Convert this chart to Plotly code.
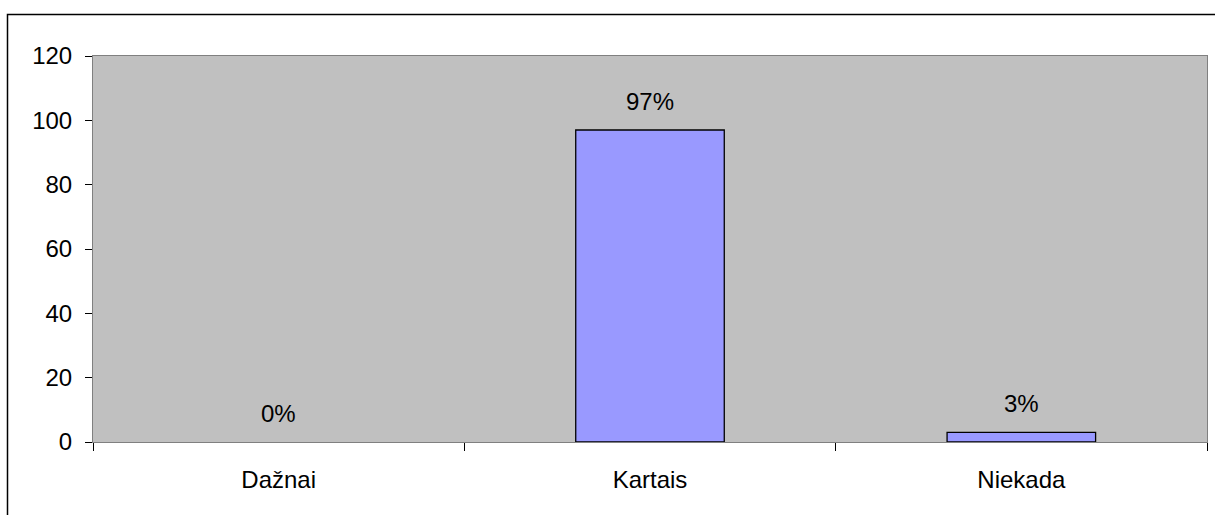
import plotly.graph_objects as go

categories = ["Dažnai", "Kartais", "Niekada"]
values = [0, 97, 3]
y_ticks = [0, 20, 40, 60, 80, 100, 120]

L, R, T, B = 93, 8, 56, 73
W, H = 1215, 515
pw, ph = W - L - R, H - T - B
FONT = "Liberation Sans, Arial"

fig = go.Figure()
fig.add_trace(go.Bar(
    x=categories, y=values, width=0.4,
    marker=dict(color="#9999FF",
                line=dict(color="black", width=[0 if v == 0 else 1.3 for v in values])),
    hoverinfo="skip",
))

for c, v in zip(categories, values):
    fig.add_annotation(x=c, y=v, text=f"{v}%", showarrow=False,
                       yanchor="bottom", yshift=13,
                       font=dict(family=FONT, size=24, color="black"))

# outer chart frame
fig.add_shape(type="rect", xref="paper", yref="paper",
              x0=(7.5 - L) / pw, x1=1.2, y0=-0.3, y1=(H - B - 14.5) / ph,
              line=dict(color="black", width=1.5), fillcolor="rgba(0,0,0,0)", layer="below")

fig.update_layout(
    width=W, height=H,
    margin=dict(l=L, r=R, t=T, b=B),
    paper_bgcolor="white", plot_bgcolor="#C0C0C0",
    showlegend=False,
    font=dict(family=FONT, size=24, color="black"),
)
fig.update_xaxes(type="category", range=[-0.5, 2.5], tickson="boundaries",
                 ticks="outside", ticklen=8, tickcolor="black",
                 tickfont=dict(size=24),
                 showline=True, linecolor="#808080", linewidth=1, mirror=True,
                 showgrid=False, ticklabelstandoff=16)
fig.update_yaxes(range=[0, 120], tickvals=y_ticks, ticks="outside", ticklen=7,
                 tickcolor="black", tickfont=dict(size=24),
                 showline=True, linecolor="#808080", linewidth=1,
                 mirror=True, showgrid=False, zeroline=False, ticklabelstandoff=8)

fig.write_html("out.html", config={"displayModeBar": False},
               post_script="document.body.style.margin='0';document.body.style.overflow='hidden';")
